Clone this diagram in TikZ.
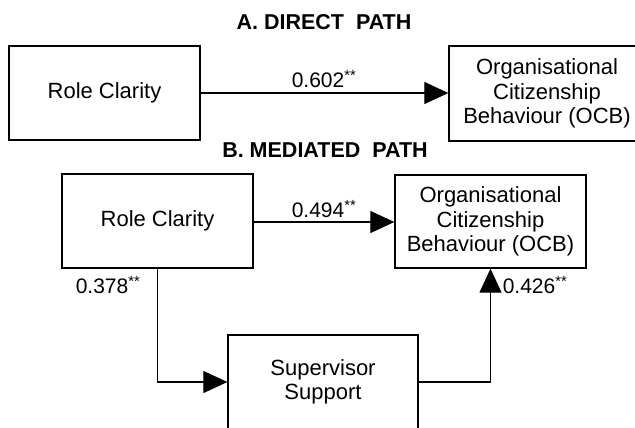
\documentclass[tikz,border=0pt]{standalone}
\usepackage{fontspec}
\setmainfont{Liberation Sans}
\usetikzlibrary{arrows.meta}
\begin{document}
\begin{tikzpicture}[x=1pt,y=-1pt,
  box/.style={draw,line width=1.3pt,inner sep=0pt,align=center,
    font=\fontsize{22}{24.5}\selectfont},
  lab/.style={font=\fontsize{21}{24}\selectfont,inner sep=0pt},
  ttl/.style={font=\bfseries\fontsize{21.5}{25}\selectfont,inner sep=0pt},
  conn/.style={line width=1.2pt,-{Triangle[length=24pt,width=22pt]}}]
\useasboundingbox (0,0) rectangle (635,428);
\begin{scope}
\clip (0,0) rectangle (635,428);
\node[ttl] (ta) at (324,22) {A.\ DIRECT\ \ PATH};
\node[box,minimum width=191pt,minimum height=94pt] (rc1) at (104.5,93) {\raisebox{3pt}{Role Clarity}};
\node[box,minimum width=196pt,minimum height=95pt] (ocb1) at (547,93.5) {Organisational\\Citizenship\\Behaviour (OCB)};
\draw[conn] (rc1.east) -- (rc1.east -| ocb1.west);
\node[lab] (l1) at (324,79) {0.602\textsuperscript{**}};

\node[ttl] (tb) at (325,150) {B.\ MEDIATED\ \ PATH};
\node[box,minimum width=191pt,minimum height=94pt] (rc2) at (157.5,221) {\raisebox{4pt}{Role Clarity}};
\node[box,minimum width=191pt,minimum height=93pt] (ocb2) at (490.5,221.5) {Organisational\\Citizenship\\Behaviour (OCB)};
\node[box,minimum width=190pt,minimum height=94pt] (ss) at (323,382) {Supervisor\\Support};
\draw[conn] (rc2.east) ++(0,1) coordinate (rs) -- (rs -| ocb2.west);
\draw[conn] (rc2.south) |- (ss.west);
\draw[conn] (ss.east) -| (ocb2.south);
\node[lab] (l2) at (324,209) {0.494\textsuperscript{**}};
\node[lab] (l3) at (108,285) {0.378\textsuperscript{**}};
\node[lab] (l4) at (535,285) {0.426\textsuperscript{**}};
\end{scope}
\end{tikzpicture}
\end{document}
